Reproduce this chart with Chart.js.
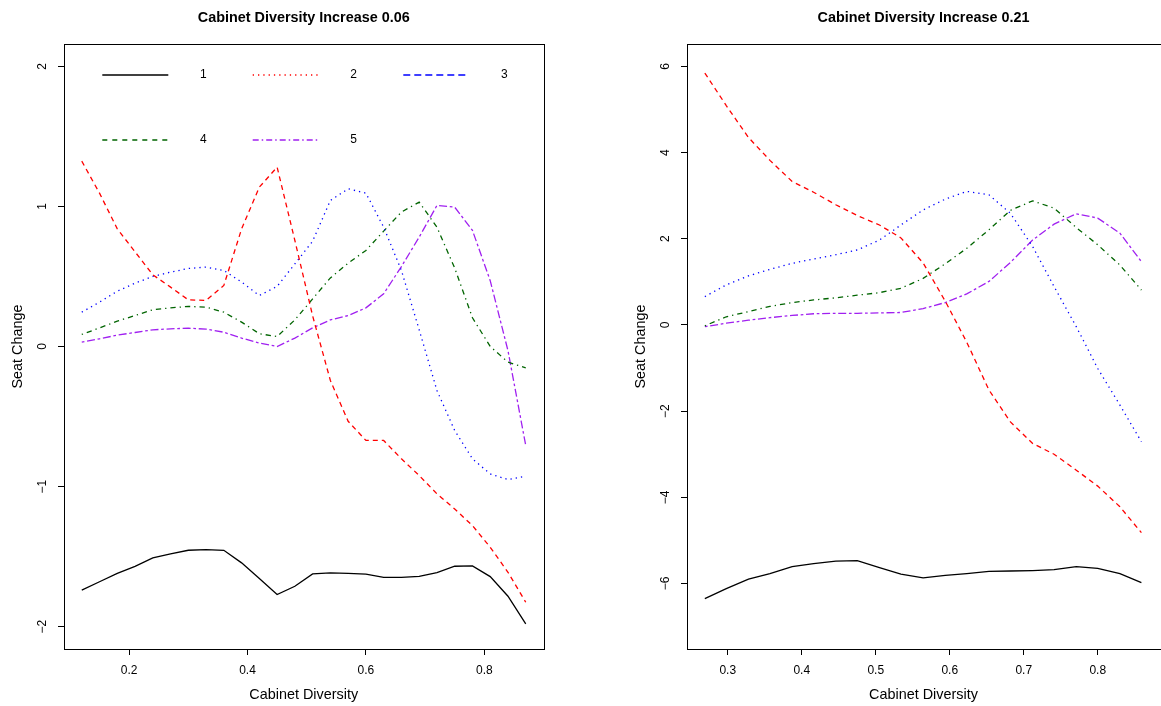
<!DOCTYPE html>
<html><head><meta charset="utf-8">
<script src="https://cdn.jsdelivr.net/npm/chart.js@4"></script>
<style>
html,body{margin:0;padding:0;background:#fff;}
#wrap{position:relative;width:1161px;height:706px;overflow:hidden;background:#fff;}
canvas{position:absolute;top:0;}
</style></head><body>
<div id="wrap">
<canvas id="c1" width="580" height="706" style="left:0px"></canvas>
<canvas id="c2" width="581" height="706" style="left:580px"></canvas>
</div>
<script>
const FONT = "'Liberation Sans', Arial, Helvetica, sans-serif";

// ---- series meta ----
const seriesNames = ['1', '2', '3', '4', '5'];
const seriesColors = ['#000000', '#FF0000', '#0000FF', '#006400', '#A020F0'];

// ---- left panel data ----
const titleLeft = 'Cabinet Diversity Increase 0.06';
const xLeft = [0.12,0.15,0.18,0.21,0.24,0.27,0.30,0.33,0.36,0.39,0.42,0.45,0.48,0.51,0.54,0.57,0.60,0.63,0.66,0.69,0.72,0.75,0.78,0.81,0.84,0.87];
const s1Left = [-1.74,-1.68,-1.62,-1.57,-1.51,-1.48,-1.455,-1.45,-1.455,-1.545,-1.657,-1.771,-1.712,-1.624,-1.617,-1.62,-1.626,-1.648,-1.648,-1.641,-1.614,-1.569,-1.567,-1.643,-1.783,-1.981];
const s2Left = [1.324,1.095,0.84,0.676,0.512,0.424,0.333,0.329,0.436,0.84,1.138,1.281,0.757,0.219,-0.243,-0.534,-0.671,-0.671,-0.802,-0.921,-1.052,-1.16,-1.279,-1.433,-1.612,-1.826];
const s3Left = [0.245,0.317,0.395,0.452,0.50,0.531,0.557,0.567,0.543,0.46,0.364,0.429,0.59,0.752,1.043,1.126,1.095,0.852,0.543,0.119,-0.314,-0.60,-0.802,-0.91,-0.95,-0.926];
const s4Left = [0.086,0.133,0.181,0.221,0.262,0.276,0.286,0.281,0.245,0.174,0.091,0.071,0.19,0.34,0.49,0.595,0.686,0.824,0.96,1.031,0.852,0.56,0.205,0.0,-0.112,-0.152];
const s5Left = [0.031,0.055,0.081,0.10,0.119,0.126,0.131,0.124,0.102,0.06,0.024,0.0,0.06,0.133,0.19,0.221,0.276,0.376,0.571,0.781,1.007,0.995,0.829,0.47,-0.03,-0.707];
const xTicksLeft = [0.2, 0.4, 0.6, 0.8];
const yTicksLeft = [-2, -1, 0, 1, 2];

// ---- right panel data ----
const titleRight = 'Cabinet Diversity Increase 0.21';
const xRight = [0.269,0.298,0.328,0.357,0.387,0.416,0.446,0.475,0.505,0.534,0.564,0.594,0.623,0.653,0.682,0.712,0.741,0.771,0.800,0.830,0.859];
const s1Right = [-6.35,-6.12,-5.90,-5.77,-5.61,-5.54,-5.48,-5.47,-5.63,-5.78,-5.87,-5.81,-5.77,-5.72,-5.71,-5.70,-5.68,-5.61,-5.65,-5.77,-5.98];
const s2Right = [5.846,5.09,4.35,3.82,3.33,3.08,2.79,2.54,2.32,2.02,1.44,0.55,-0.4,-1.51,-2.25,-2.75,-3.0,-3.37,-3.74,-4.22,-4.82];
const s3Right = [0.658,0.93,1.14,1.29,1.43,1.53,1.63,1.74,1.97,2.32,2.67,2.92,3.10,3.02,2.59,1.82,0.89,-0.04,-1.01,-1.86,-2.71];
const s4Right = [-0.02,0.19,0.31,0.43,0.52,0.58,0.63,0.69,0.75,0.85,1.08,1.42,1.78,2.21,2.66,2.88,2.71,2.26,1.86,1.39,0.81];
const s5Right = [-0.04,0.04,0.11,0.17,0.22,0.26,0.27,0.27,0.28,0.29,0.38,0.52,0.72,1.01,1.45,1.97,2.34,2.58,2.48,2.13,1.47];
const xTicksRight = [0.3, 0.4, 0.5, 0.6, 0.7, 0.8];
const yTicksRight = [-6, -4, -2, 0, 2, 4, 6];

const xTitle = 'Cabinet Diversity';
const yTitle = 'Seat Change';

// ---- styles ----
const plotDashes = [[], [5, 4], [1.3, 4], [1.3, 4, 5.3, 4], [2.7, 2.7, 8, 2.7]];
const legendDashes = [[], [1.3, 4], [7, 4], [5, 5], [6, 3, 1.5, 3]];

function fmt(v) { return v < 0 ? '\u2212' + Math.abs(v) : String(v); }

function buildChart(id, p) {
  const datasets = p.series.map((vals, k) => ({
    label: seriesNames[k],
    data: vals.map((v, i) => ({ x: p.x[i], y: v })),
    borderColor: seriesColors[k],
    borderWidth: 1.3,
    borderDash: plotDashes[k],
    pointRadius: 0,
    tension: 0,
    fill: false
  }));
  const decor = {
    id: 'decor',
    afterDraw(chart) {
      const ctx = chart.ctx, a = chart.chartArea, ys = chart.scales.y;
      ctx.save();
      ctx.setLineDash([]);
      ctx.strokeStyle = '#000';
      ctx.lineWidth = 1;
      const L = Math.round(a.left) + 0.5, T = Math.round(a.top) + 0.5;
      const R = Math.round(a.right) + 0.5, B = Math.round(a.bottom) + 0.5;
      ctx.strokeRect(L, T, R - L, B - T);
      ctx.fillStyle = '#000';
      ctx.textAlign = 'center';
      ctx.textBaseline = 'middle';
      ctx.font = 'bold 14.4px ' + FONT;
      ctx.fillText(p.title, (a.left + p.titleRight) / 2, 18);
      ctx.font = '14.4px ' + FONT;
      ctx.fillText(xTitle, (a.left + p.titleRight) / 2, 695);
      ctx.save();
      ctx.translate(a.left - 46, (a.top + a.bottom) / 2);
      ctx.rotate(-Math.PI / 2);
      ctx.fillText(yTitle, 0, 0);
      ctx.restore();
      ctx.font = '12px ' + FONT;
      p.yTicks.forEach(v => {
        const py = ys.getPixelForValue(v);
        ctx.save();
        ctx.translate(a.left - 21, py);
        ctx.rotate(-Math.PI / 2);
        ctx.fillText(fmt(v), 0, 0);
        ctx.restore();
      });
      if (p.legend) {
        const cols = [102.3, 252.7, 403.3], rows = [75, 140];
        const pos = [[0, 0], [1, 0], [2, 0], [0, 1], [1, 1]];
        seriesNames.forEach((name, k) => {
          const lx = cols[pos[k][0]], ly = rows[pos[k][1]];
          ctx.beginPath();
          ctx.setLineDash(legendDashes[k]);
          ctx.strokeStyle = seriesColors[k];
          ctx.lineWidth = 1.3;
          ctx.moveTo(lx, ly);
          ctx.lineTo(lx + 66, ly);
          ctx.stroke();
          ctx.setLineDash([]);
          ctx.fillStyle = '#000';
          ctx.fillText(name, lx + 101, ly);
        });
      }
      ctx.restore();
    }
  };
  return new Chart(document.getElementById(id), {
    type: 'line',
    data: { datasets },
    plugins: [decor],
    options: {
      responsive: false,
      animation: false,
      devicePixelRatio: 1,
      layout: { padding: { left: 0, top: 44, right: p.padRight, bottom: 0 } },
      plugins: { legend: { display: false }, tooltip: { enabled: false }, title: { display: false } },
      scales: {
        x: {
          type: 'linear', min: p.xMin, max: p.xMax,
          afterBuildTicks: s => { s.ticks = p.xTicks.map(v => ({ value: v })); },
          afterFit: s => { s.height = 57; },
          grid: { drawOnChartArea: false, drawTicks: true, tickLength: 6, color: '#000', lineWidth: 1 },
          border: { display: false },
          ticks: { color: '#000', font: { family: FONT, size: 12 }, padding: 8, maxRotation: 0, autoSkip: false, callback: v => fmt(v) }
        },
        y: {
          type: 'linear', min: p.yMin, max: p.yMax,
          afterBuildTicks: s => { s.ticks = p.yTicks.map(v => ({ value: v })); },
          afterFit: s => { s.width = p.yWidth; },
          grid: { drawOnChartArea: false, drawTicks: true, tickLength: 6, color: '#000', lineWidth: 1 },
          border: { display: false },
          ticks: { display: false }
        }
      }
    }
  });
}

buildChart('c1', {
  title: titleLeft, x: xLeft, series: [s1Left, s2Left, s3Left, s4Left, s5Left],
  xMin: 0.09, xMax: 0.90, yMin: -2.16, yMax: 2.16,
  xTicks: xTicksLeft, yTicks: yTicksLeft, yWidth: 64, padRight: 36.5, titleRight: 543.5, legend: true
});
buildChart('c2', {
  title: titleRight, x: xRight, series: [s1Right, s2Right, s3Right, s4Right, s5Right],
  xMin: 0.2449, xMax: 0.8855, yMin: -7.52, yMax: 6.52,
  xTicks: xTicksRight, yTicks: yTicksRight, yWidth: 107, padRight: 0, titleRight: 580, legend: false
});
</script>
</body></html>
